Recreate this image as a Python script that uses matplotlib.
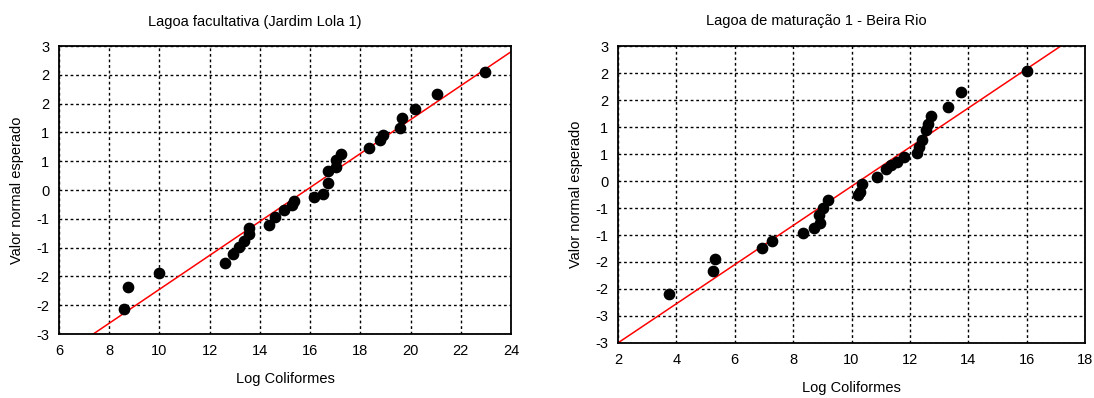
import numpy as np
import matplotlib
matplotlib.use("Agg")
import matplotlib.pyplot as plt
from matplotlib.ticker import FuncFormatter

plt.rcParams['font.family'] = ['Liberation Sans', 'DejaVu Sans']

# Lagoa facultativa (Jardim Lola 1)
log_coli_fac = [8.57, 8.74, 9.98, 12.61, 12.92, 13.15, 13.35, 13.56, 13.57, 14.38,
                14.62, 14.98, 15.29, 15.35, 16.15, 16.51, 16.71, 16.72, 17.02, 17.02,
                17.24, 18.35, 18.77, 18.92, 19.57, 19.65, 20.17, 21.05, 22.96]
normal_fac = [-2.48, -2.02, -1.72, -1.52, -1.33, -1.19, -1.07, -0.91, -0.79, -0.72,
              -0.56, -0.41, -0.32, -0.23, -0.15, -0.08, 0.15, 0.39, 0.47, 0.62,
              0.76, 0.88, 1.04, 1.14, 1.30, 1.49, 1.68, 2.00, 2.45]
slope_fac, intercept_fac = 0.3535, -5.604

# Lagoa de maturação 1 - Beira Rio
log_coli_mat = [3.75, 5.26, 5.33, 6.95, 7.28, 8.34, 8.72, 8.91, 8.89, 9.03,
                9.21, 10.23, 10.29, 10.37, 10.86, 11.17, 11.34, 11.57, 11.81, 12.25,
                12.31, 12.43, 12.55, 12.62, 12.74, 13.31, 13.74, 16.0]
normal_mat = [-2.40, -1.91, -1.63, -1.40, -1.24, -1.08, -0.97, -0.85, -0.68, -0.52,
              -0.35, -0.24, -0.17, -0.01, 0.15, 0.32, 0.41, 0.48, 0.59, 0.66,
              0.79, 0.95, 1.17, 1.31, 1.47, 1.67, 1.99, 2.46]
slope_mat, intercept_mat = 0.4263, -4.32

fig = plt.figure(figsize=(10.94, 3.98), dpi=100)
ax1 = fig.add_axes([0.0539, 0.1608, 0.4132, 0.7236])
ax2 = fig.add_axes([0.5649, 0.1382, 0.4269, 0.7462])

fmt = FuncFormatter(lambda v, p: str(int(round(v))))


def draw(ax, x, y, slope, intercept, xlim, ylim, yticks, title, title_x):
    ax.set_xlim(xlim)
    ax.set_ylim(ylim)
    ax.set_xticks(np.arange(xlim[0], xlim[1] + 1, 2))
    ax.set_yticks(yticks)
    ax.yaxis.set_major_formatter(fmt)
    ax.grid(True, color='black', linestyle=(0, (2, 2)), linewidth=1)
    ax.set_axisbelow(True)
    xx = np.array(xlim, dtype=float)
    ax.plot(xx, slope * xx + intercept, color='red', linewidth=1.1, zorder=3)
    ax.scatter(x, y, s=55, color='black', zorder=4, clip_on=False)
    for s in ax.spines.values():
        s.set_linewidth(1.3)
        s.set_color('black')
        s.set_zorder(5)
    ax.tick_params(length=0, labelsize=10.5, pad=7)
    ax.set_xlabel('Log Coliformes', fontsize=10.5, labelpad=10)
    ax.set_ylabel('Valor normal esperado', fontsize=10.5, labelpad=9)
    ax.text(title_x, 1.06, title, transform=ax.transAxes, ha='center',
            va='bottom', fontsize=10.5)


draw(ax1, log_coli_fac, normal_fac, slope_fac, intercept_fac, (6, 24), (-3, 3),
     np.linspace(3, -3, 11), 'Lagoa facultativa (Jardim Lola 1)', 0.434)
draw(ax2, log_coli_mat, normal_mat, slope_mat, intercept_mat, (2, 18), (-3.47, 3.0),
     np.linspace(3, -3.47, 12), 'Lagoa de maturação 1 - Beira Rio', 0.424)

fig.savefig('out.png', dpi=100)
